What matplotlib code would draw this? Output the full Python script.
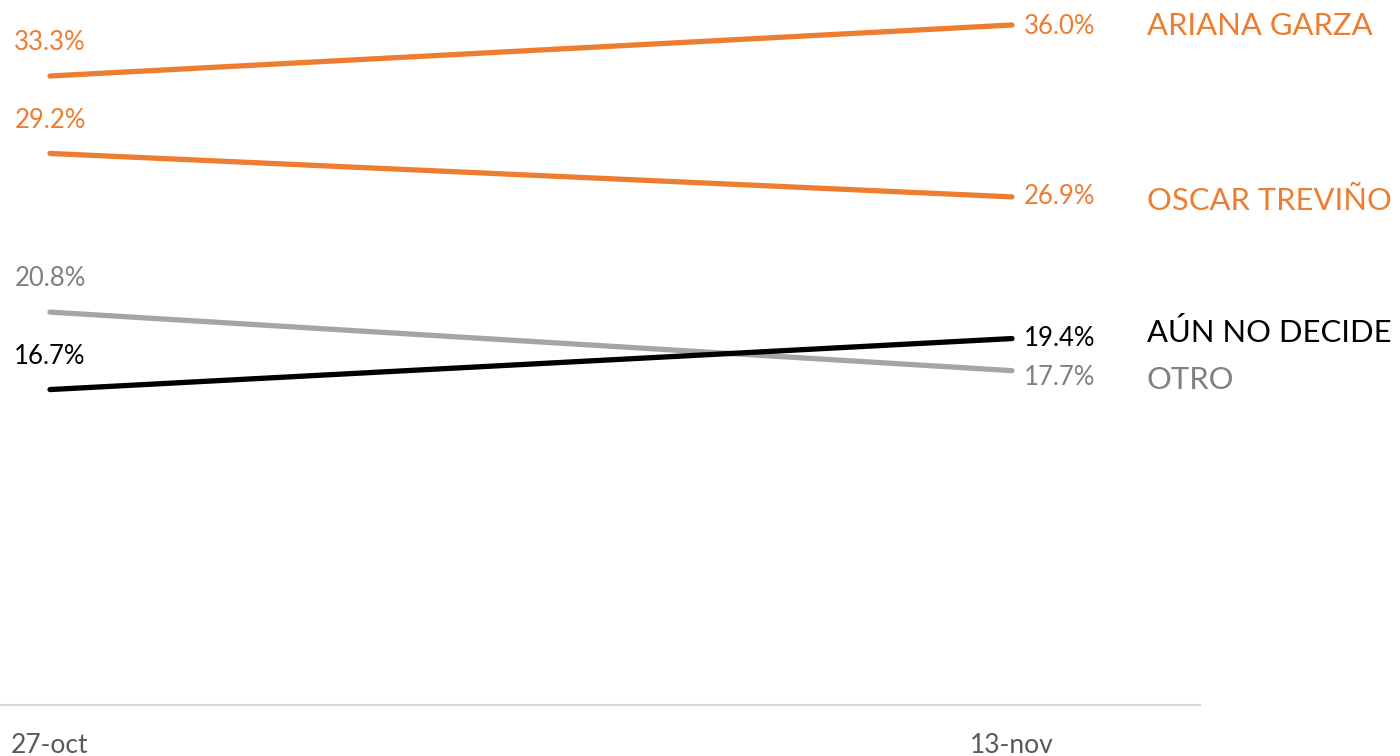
import matplotlib
matplotlib.use("Agg")
import matplotlib.pyplot as plt

dates = ["27-oct", "13-nov"]
series_names = ["ARIANA GARZA", "OSCAR TREVIÑO", "OTRO", "AÚN NO DECIDE"]
ariana = [33.3, 36.0]
oscar = [29.2, 26.9]
otro = [20.8, 17.7]
aun = [16.7, 19.4]

plt.rcParams['font.family'] = ['Lato', 'DejaVu Sans']

series = [ariana, oscar, otro, aun]
line_colors = ["#ED7D31", "#ED7D31", "#A5A5A5", "#000000"]
text_colors = ["#ED7D31", "#ED7D31", "#808080", "#000000"]
right_dy = [1, 0, 7, 0]      # pixel tweaks (downwards) for right value labels
name_dy = [1, 4, 9, -6]      # pixel tweaks (downwards) for series names

fig = plt.figure(figsize=(14, 7.56), dpi=100)
ax = fig.add_axes([0, 51 / 756, 1200 / 1400, 705 / 756])

x = list(range(len(dates)))
for vals, lc, tc, rdy, ndy, name in zip(series, line_colors, text_colors, right_dy, name_dy, series_names):
    ax.plot(x, vals, color=lc, lw=3.8, solid_capstyle='round')
    ax.annotate(f"{vals[0]:.1f}%", (x[0], vals[0]), xytext=(0, 24), textcoords='offset points',
                ha='center', va='center', color=tc, fontsize=18.5)
    ax.annotate(f"{vals[1]:.1f}%", (x[1], vals[1]), xytext=(12 * 0.72, -rdy * 0.72), textcoords='offset points',
                ha='left', va='center', color=tc, fontsize=18.5)
    ax.annotate(name, (x[1], vals[1]), xytext=((1147 - 1012) * 0.72, -ndy * 0.72), textcoords='offset points',
                ha='left', va='center', color=tc, fontsize=22.3, annotation_clip=False)

ax.set_xlim(-50 / 962, 1150 / 962)
ax.set_ylim(0, 36 + 25 / (680 / 36))
ax.set_xticks(x)
ax.set_xticklabels(dates, fontsize=19, color="#595959")
ax.tick_params(axis='x', length=0, pad=20)
ax.set_yticks([])
for s in ['top', 'left', 'right']:
    ax.spines[s].set_visible(False)
ax.spines['bottom'].set_color('#D9D9D9')
ax.spines['bottom'].set_linewidth(1.5)

fig.savefig("out.png", dpi=100)
